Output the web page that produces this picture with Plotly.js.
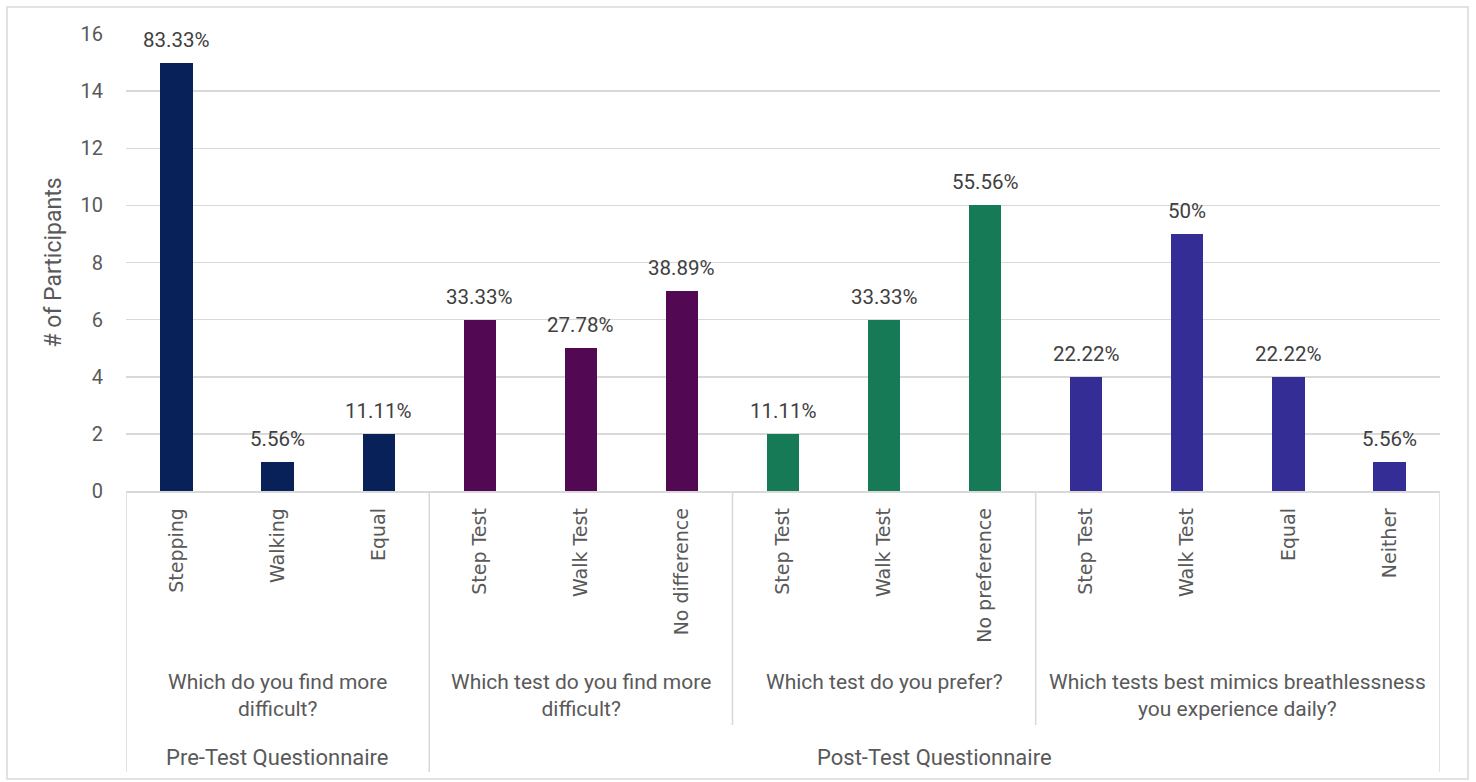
<!DOCTYPE html>
<html>
<head>
<meta charset="utf-8">
<script src="https://cdn.plot.ly/plotly-3.0.1.min.js"></script>
<style>
  html, body { margin: 0; padding: 0; background: #ffffff; }
  #chart { width: 1476px; height: 782px; }
</style>
</head>
<body>
<div id="chart"></div>
<script>
// ---- Data ----
const answers = ["Stepping", "Walking", "Equal",
                 "Step Test", "Walk Test", "No difference",
                 "Step Test", "Walk Test", "No preference",
                 "Step Test", "Walk Test", "Equal", "Neither"];
const participants = [15, 1, 2, 6, 5, 7, 2, 6, 10, 4, 9, 4, 1];
const percentLabels = ["83.33%", "5.56%", "11.11%",
                       "33.33%", "27.78%", "38.89%",
                       "11.11%", "33.33%", "55.56%",
                       "22.22%", "50%", "22.22%", "5.56%"];
const questions = ["Which do you find more<br>difficult?",
                   "Which test do you find more<br>difficult?",
                   "Which test do you prefer?",
                   "Which tests best mimics breathlessness<br>you experience daily?"];
const questionSizes = [3, 3, 3, 4];
const questionnaires = ["Pre-Test Questionnaire", "Post-Test Questionnaire"];
const questionnaireSizes = [1, 3]; // number of questions in each questionnaire
const yTicks = [0, 2, 4, 6, 8, 10, 12, 14, 16];
const questionColors = ["#082158", "#520853", "#177a57", "#352d96"];

// ---- Layout geometry (pixels) ----
const W = 1476, H = 782;
const M = {l: 126, r: 36, t: 34, b: 291};
const PW = W - M.l - M.r, PH = H - M.t - M.b;
const axisY = M.t + PH;
const py = p => (axisY - p) / PH;    // pixel y -> paper y
const px = p => (p - M.l) / PW;      // pixel x -> paper x

const xIdx = answers.map((_, i) => i);
const barColors = [];
questionSizes.forEach((n, q) => { for (let k = 0; k < n; k++) barColors.push(questionColors[q]); });

const baseFam = "Roboto, 'Liberation Sans', sans-serif";
const labelFont = {family: baseFam, size: 20.5, color: "#404040"};
const catFont = {family: "'DejaVu Sans', Verdana, sans-serif", size: 19, color: "#595959"};
const groupFont = {family: baseFam, size: 21, color: "#595959"};
const topFont = {family: baseFam, size: 22, color: "#595959"};
const lineColor = "#d9d9d9";

const trace = {
  type: "bar",
  x: xIdx,
  y: participants,
  width: 0.32,
  marker: {color: barColors, line: {width: 0}},
  hoverinfo: "y"
};

const annotations = [];
const shapes = [];

// data labels above bars
xIdx.forEach(i => {
  annotations.push({
    xref: "x", yref: "y", x: i, y: participants[i], yanchor: "bottom", xanchor: "center",
    yshift: 9, text: percentLabels[i], showarrow: false, font: labelFont
  });
});

// question (level 2) labels and separators
let start = 0;
const qBounds = [];
questions.forEach((q, i) => {
  const n = questionSizes[i];
  const center = start + (n - 1) / 2;
  annotations.push({
    xref: "x", yref: "paper", x: center, y: py(668), yanchor: "top", xanchor: "center",
    text: q, showarrow: false, font: groupFont, align: "center"
  });
  qBounds.push([start - 0.5, start + n - 0.5]);
  start += n;
});

// questionnaire (level 3) labels
let qStart = 0;
const outerBounds = [];
questionnaires.forEach((name, i) => {
  const m = questionnaireSizes[i];
  const lo = qBounds[qStart][0], hi = qBounds[qStart + m - 1][1];
  annotations.push({
    xref: "x", yref: "paper", x: (lo + hi) / 2, y: py(757), yanchor: "middle", xanchor: "center",
    text: name, showarrow: false, font: topFont
  });
  outerBounds.push(lo, hi);
  qStart += m;
});

// separators
const outerSet = new Set(outerBounds);
const allBounds = new Set();
qBounds.forEach(b => { allBounds.add(b[0]); allBounds.add(b[1]); });
allBounds.forEach(b => {
  const full = outerSet.has(b);
  shapes.push({
    type: "line", xref: "x", yref: "paper", x0: b, x1: b,
    y0: 0, y1: py(full ? 772 : 725),
    line: {color: lineColor, width: 1.5}
  });
});

// chart border
shapes.push({
  type: "rect", xref: "paper", yref: "paper",
  x0: px(7), x1: px(1468), y0: py(779), y1: py(7),
  line: {color: lineColor, width: 1.5}, fillcolor: "rgba(0,0,0,0)", layer: "below"
});

const layout = {
  width: W, height: H,
  margin: M,
  paper_bgcolor: "#ffffff",
  plot_bgcolor: "#ffffff",
  showlegend: false,
  bargap: 0,
  xaxis: {
    range: [-0.5, answers.length - 0.5],
    tickmode: "array",
    tickvals: xIdx,
    ticktext: answers,
    tickangle: -90,
    tickfont: catFont,
    ticks: "",
    ticklabelstandoff: 8,
    showgrid: false,
    zeroline: false,
    showline: true,
    linecolor: lineColor,
    linewidth: 1.5,
    fixedrange: true
  },
  yaxis: {
    range: [0, 16],
    tickmode: "array",
    tickvals: yTicks,
    ticktext: yTicks.map(String),
    tickfont: {family: baseFam, size: 20, color: "#595959"},
    showgrid: true,
    gridcolor: lineColor,
    gridwidth: 1.5,
    zeroline: false,
    showline: false,
    ticks: "",
    ticklabelstandoff: 22,
    title: {text: "# of Participants", font: {family: baseFam, size: 23, color: "#595959"}, standoff: 12},
    fixedrange: true
  },
  annotations: annotations,
  shapes: shapes
};

Plotly.newPlot("chart", [trace], layout, {displayModeBar: false, responsive: false, staticPlot: true});
</script>
</body>
</html>
